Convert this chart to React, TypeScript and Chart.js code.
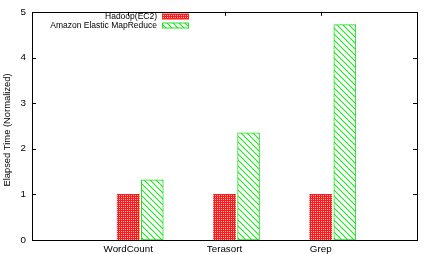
import React, { useEffect, useRef } from 'react';
import { Chart, registerables } from 'chart.js';

Chart.register(...registerables);

const categories = ['WordCount', 'Terasort', 'Grep'];
const seriesLabels = ['Hadoop(EC2)', 'Amazon Elastic MapReduce'];
const hadoopEC2 = [1, 1, 1];
const amazonEMR = [1.32, 2.35, 4.72];
const yTickValues = [0, 1, 2, 3, 4, 5];
const yTitle = 'Elapsed Time (Normalized)';

const FONT = '"Liberation Sans", Arial, Helvetica, sans-serif';

function makeRedPattern(): CanvasPattern | string {
  const c = document.createElement('canvas');
  c.width = 2; c.height = 2;
  const g = c.getContext('2d');
  if (!g) return '#ff2020';
  g.fillStyle = '#ff1a1a';
  g.fillRect(0, 0, 2, 2);
  g.fillStyle = '#ffb8b8';
  g.fillRect(1, 1, 1, 1);
  const p = g.createPattern(c, 'repeat');
  return p || '#ff2020';
}

function makeGreenPattern(): CanvasPattern | string {
  const s = 6;
  const c = document.createElement('canvas');
  c.width = s; c.height = s;
  const g = c.getContext('2d');
  if (!g) return '#00ee00';
  g.fillStyle = '#ffffff';
  g.fillRect(0, 0, s, s);
  g.strokeStyle = '#22e022';
  g.lineWidth = 1.1;
  g.beginPath();
  g.moveTo(-1, -1); g.lineTo(s + 1, s + 1);
  g.moveTo(-1 - s, -1); g.lineTo(1, s + 1);
  g.moveTo(s - 1, -1); g.lineTo(2 * s + 1, s + 1);
  g.stroke();
  const p = g.createPattern(c, 'repeat');
  return p || '#00ee00';
}

const frameAndTicks = {
  id: 'frameAndTicks',
  beforeDatasetsDraw(chart: any) {
    const { ctx, chartArea: a, scales } = chart;
    ctx.save();
    ctx.strokeStyle = '#000';
    ctx.lineWidth = 1;
    ctx.beginPath();
    scales.y.ticks.forEach((t: any) => {
      const y = Math.round(scales.y.getPixelForValue(t.value)) + 0.5;
      ctx.moveTo(a.left, y); ctx.lineTo(a.left + 4, y);
      ctx.moveTo(a.right, y); ctx.lineTo(a.right - 4, y);
    });
    scales.x.ticks.forEach((t: any) => {
      const x = Math.round(scales.x.getPixelForValue(t.value)) + 0.5;
      ctx.moveTo(x, a.top); ctx.lineTo(x, a.top + 4);
      ctx.moveTo(x, a.bottom); ctx.lineTo(x, a.bottom - 4);
    });
    ctx.stroke();
    ctx.restore();
  },
  afterDraw(chart: any) {
    const { ctx, chartArea: a } = chart;
    ctx.save();
    ctx.strokeStyle = '#000';
    ctx.lineWidth = 1;
    ctx.strokeRect(Math.round(a.left) + 0.5, Math.round(a.top) + 0.5,
      Math.round(a.right - a.left), Math.round(a.bottom - a.top));
    ctx.restore();

    // y-axis title
    ctx.save();
    ctx.font = `9.4px ${FONT}`;
    ctx.fillStyle = '#000';
    ctx.textAlign = 'center';
    ctx.textBaseline = 'middle';
    ctx.translate(7, 130);
    ctx.rotate(-Math.PI / 2);
    ctx.fillText(yTitle, 0, 0);
    ctx.restore();

    // key (gnuplot style: text, then sample)
    ctx.save();
    ctx.font = `8.5px ${FONT}`;
    ctx.textAlign = 'right';
    ctx.textBaseline = 'middle';
    chart.data.datasets.forEach((ds: any, i: number) => {
      const yc = 16.5 + i * 9;
      ctx.fillStyle = '#000';
      ctx.fillText(ds.label, 157, yc);
      ctx.fillStyle = ds.backgroundColor;
      ctx.fillRect(162, yc - 2.5, 27, 5);
      ctx.strokeStyle = ds.borderColor;
      ctx.lineWidth = 1;
      ctx.strokeRect(162.5, yc - 2.5, 26, 5);
    });
    ctx.restore();
  },
};

export default function App() {
  const ref = useRef<HTMLCanvasElement | null>(null);

  useEffect(() => {
    if (!ref.current) return;
    const red = makeRedPattern();
    const green = makeGreenPattern();
    const chart = new Chart(ref.current, {
      type: 'bar',
      data: {
        datasets: [
          {
            label: seriesLabels[0],
            data: categories.map((_, i) => ({ x: i, y: hadoopEC2[i] })),
            xAxisID: 'x',
            backgroundColor: red as any,
            borderColor: '#ff2020',
            borderWidth: 0,
            barThickness: 22,
            grouped: false,
          },
          {
            label: seriesLabels[1],
            data: categories.map((_, i) => ({ x: i, y: amazonEMR[i] })),
            xAxisID: 'x2',
            backgroundColor: green as any,
            borderColor: '#22e022',
            borderWidth: 1,
            borderSkipped: false,
            barThickness: 22,
            grouped: false,
          },
        ],
      } as any,
      options: {
        responsive: false,
        animation: false,
        events: [],
        layout: { padding: { top: 8, right: 7, left: 0, bottom: 0 } },
        plugins: { legend: { display: false }, tooltip: { enabled: false } },
        scales: {
          x: {
            type: 'linear',
            min: -1,
            max: 3,
            offset: false,
            grid: { display: false, drawTicks: false, offset: false },
            border: { display: false },
            afterBuildTicks: (s: any) => { s.ticks = categories.map((_, i) => ({ value: i })); },
            afterFit: (s: any) => { s.height = 14; },
            ticks: {
              autoSkip: false,
              maxRotation: 0,
              padding: 3,
              color: '#000',
              font: { family: FONT, size: 9.8 },
              callback: (v: any) => categories[v] ?? '',
            },
          },
          x2: {
            type: 'linear',
            min: -1.25,
            max: 2.75,
            offset: false,
            grid: { display: false, drawTicks: false, offset: false },
            display: false,
          },
          y: {
            type: 'linear',
            min: 0,
            max: 5,
            grid: { display: false, drawTicks: false },
            border: { display: false },
            afterBuildTicks: (s: any) => { s.ticks = yTickValues.map((v) => ({ value: v })); },
            afterFit: (s: any) => { s.width = 32; },
            ticks: {
              padding: 6,
              color: '#000',
              font: { family: FONT, size: 9.8 },
            },
          },
        },
      } as any,
      plugins: [frameAndTicks],
    });
    return () => chart.destroy();
  }, []);

  return (
    <div style={{ position: 'fixed', left: 0, top: 0, width: 424, height: 254, background: '#fff' }}>
      <canvas ref={ref} width={424} height={254} style={{ display: 'block' }} />
    </div>
  );
}
